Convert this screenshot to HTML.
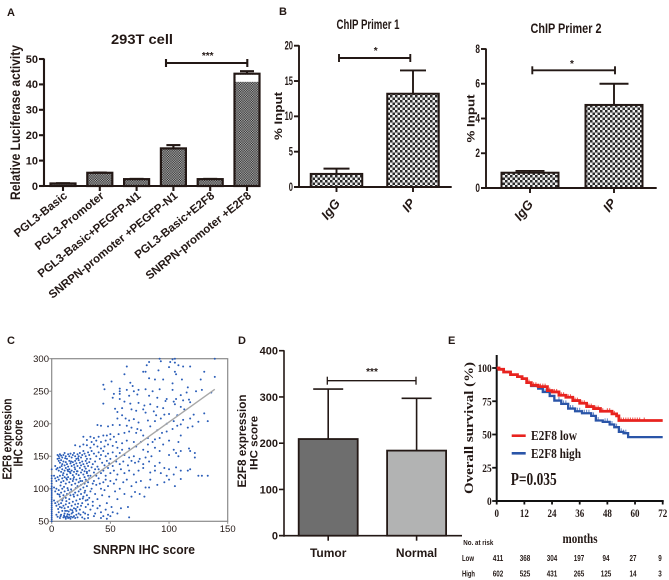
<!DOCTYPE html>
<html lang="en">
<head>
<meta charset="utf-8">
<title>E2F8 SNRPN figure</title>
<style>
html,body{margin:0;padding:0;background:#fff;}
svg{display:block;}
text{font-family:"Liberation Sans",sans-serif;fill:#231815;}
.b{font-weight:bold;}
.serif{font-family:"Liberation Serif",serif;font-weight:bold;}
</style>
</head>
<body>
<svg id="fig" xmlns="http://www.w3.org/2000/svg" width="669" height="580" viewBox="0 0 669 580">
<defs>
<pattern id="fine" width="2.4" height="2.4" patternUnits="userSpaceOnUse">
<rect width="2.4" height="2.4" fill="#b4b4b4"/><rect width="1.2" height="1.2" fill="#2a2a2a"/><rect x="1.2" y="1.2" width="1.2" height="1.2" fill="#2a2a2a"/>
</pattern>
<pattern id="coarse" width="5" height="5" patternUnits="userSpaceOnUse">
<rect width="5" height="5" fill="#f0f0f0"/><rect width="2.5" height="2.5" fill="#2a2a2a"/><rect x="2.5" y="2.5" width="2.5" height="2.5" fill="#2a2a2a"/>
</pattern>
</defs>
<rect width="669" height="580" fill="#fff"/>

<text class="b" x="7" y="16" font-size="11">A</text>
<text class="b" x="279" y="15" font-size="11">B</text>
<text class="b" x="7" y="344" font-size="11">C</text>
<text class="b" x="238" y="344" font-size="11">D</text>
<text class="b" x="448" y="344" font-size="11">E</text>

<text class="b" x="142" y="44" font-size="13.500" text-anchor="middle" textLength="62" lengthAdjust="spacingAndGlyphs">293T cell</text>
<text class="b" transform="translate(20,122.500) rotate(-90)" font-size="14" text-anchor="middle" textLength="155" lengthAdjust="spacingAndGlyphs">Relative Luciferase activity</text>

<text class="b" x="368" y="29" font-size="13.500" text-anchor="middle" textLength="63" lengthAdjust="spacingAndGlyphs">ChIP Primer 1</text>
<text class="b" x="566" y="33" font-size="13.500" text-anchor="middle" textLength="71" lengthAdjust="spacingAndGlyphs">ChIP Primer 2</text>
<text class="b" transform="translate(282,116) rotate(-90)" font-size="11" text-anchor="middle" textLength="48" lengthAdjust="spacingAndGlyphs">% Input</text>
<text class="b" transform="translate(474.500,118.500) rotate(-90)" font-size="11" text-anchor="middle" textLength="48" lengthAdjust="spacingAndGlyphs">% Input</text>

<text class="b" transform="translate(11.500,439) rotate(-90)" font-size="12.500" text-anchor="middle" textLength="81" lengthAdjust="spacingAndGlyphs">E2F8 expression</text>
<text class="b" transform="translate(22.500,443) rotate(-90)" font-size="12.500" text-anchor="middle" textLength="47" lengthAdjust="spacingAndGlyphs">IHC score</text>
<text class="b" x="144" y="554" font-size="12.500" text-anchor="middle" textLength="102" lengthAdjust="spacingAndGlyphs">SNRPN IHC score</text>
<text class="b" x="175.500" y="494" font-size="9" textLength="30" lengthAdjust="spacingAndGlyphs">R<tspan font-size="6" dy="-3">2</tspan><tspan dy="3">=0.48</tspan></text>
<text class="b" x="175.500" y="509" font-size="9" textLength="30" lengthAdjust="spacingAndGlyphs">P&lt;0.001</text>

<text class="b" transform="translate(246,441) rotate(-90)" font-size="12" text-anchor="middle" textLength="93" lengthAdjust="spacingAndGlyphs">E2F8 expression</text>
<text class="b" transform="translate(257.500,443) rotate(-90)" font-size="11" text-anchor="middle" textLength="54" lengthAdjust="spacingAndGlyphs">IHC score</text>

<text class="serif" transform="translate(473,428) rotate(-90)" font-size="12.500" text-anchor="middle" textLength="132" lengthAdjust="spacingAndGlyphs">Overall survival (%)</text>
<text class="serif" x="580" y="543" font-size="14" text-anchor="middle" textLength="35" lengthAdjust="spacingAndGlyphs">months</text>
<line x1="511.700" x2="525.700" y1="435.700" y2="435.700" stroke="#e8231f" stroke-width="2.600"/>
<line x1="511.700" x2="525.700" y1="453.300" y2="453.300" stroke="#2a55a8" stroke-width="2.600"/>
<text class="serif" x="531" y="440" font-size="13.500" textLength="46" lengthAdjust="spacingAndGlyphs">E2F8 low</text>
<text class="serif" x="531" y="458" font-size="13.500" textLength="50" lengthAdjust="spacingAndGlyphs">E2F8 high</text>
<text class="serif" x="510.700" y="485" font-size="18" textLength="46" lengthAdjust="spacingAndGlyphs">P=0.035</text>
<text class="b" x="463.300" y="545" font-size="7.500" textLength="30" lengthAdjust="spacingAndGlyphs">No. at risk</text>
<text class="b" x="462" y="561" font-size="8.500" textLength="12" lengthAdjust="spacingAndGlyphs">Low</text>
<text class="b" x="462" y="576.500" font-size="8.500" textLength="13" lengthAdjust="spacingAndGlyphs">High</text>
</svg>

<script>
// ---------- Panel A ----------
const aCategories = ["PGL3-Basic","PGL3-Promoter","PGL3-Basic+PEGFP-N1","SNRPN-promoter +PEGFP-N1","PGL3-Basic+E2F8","SNRPN-promoter +E2F8"];
const aValues = [1,5.2,2.7,14.8,2.7,44.2];
const aErrorTops = [1.1,5.3,2.8,16.1,2.8,45.2];
const aTicks = [0,10,20,30,40,50];
// ---------- Panel B ----------
const b1Categories = ["IgG","IP"];
const b1Values = [1.85,13.2];
const b1ErrorTops = [2.6,16.5];
const b1Ticks = [0,5,10,15,20];
const b2Categories = ["IgG","IP"];
const b2Values = [0.88,4.78];
const b2ErrorTops = [0.98,6];
const b2Ticks = [0,2,4,6,8];
// ---------- Panel C ----------
const cXTicks = [0,50,100,150];
const cYTicks = [50,100,150,200,250,300];
const trendX = [5,139];
const trendY = [80,253];
const zeroScoreY = [50,53,56,59,62,65,68,71,74,77,80,83,86,89,92,95,98,101,104,108,112,116,120,130];
const scatterPoints = [
[92,300],[93,296],[103,299],[105,300],[139,300],[83,295],[81,290],[101,295],[105,294],[108,290],[112,288],[118,288],[100,287],[64,288],[62,276],[78,280],[80,280],[91,282],[105,280],[106,276],[130,280],[139,272],[127,268],[111,268],[103,262],[95,268],[88,268],[83,270],[51,265],[44,260],[45,253],[67,263],[69,258],[58,254],[58,250],[58,246],[64,252],[70,250],[74,252],[80,253],[86,250],[92,253],[103,252],[116,256],[115,248],[128,252],[136,248],[123,250],[110,244],[98,238],[97,235],[104,234],[106,238],[112,236],[117,237],[118,233],[105,230],[90,240],[83,243],[73,245],[66,243],[53,246],[52,240],[58,238],[44,231],[62,234],[67,231],[74,232],[79,228],[84,230],[90,226],[95,224],[110,226],[113,222],[54,223],[56,218],[60,224],[68,222],[72,220],[78,222],[80,217],[87,219],[89,213],[96,214],[100,215],[107,213],[130,216],[112,206],[118,208],[133,204],[125,203],[121,214],
[56,208],[60,213],[63,208],[66,205],[70,207],[74,202],[82,205],[88,204],[93,208],[98,200],[104,204],[107,197],[110,199],[116,194],[120,196],[39,198],[42,197],[48,196],[52,198],[58,198],[64,197],[68,194],[73,192],[76,190],[84,196],[90,190],[94,186],[98,188],[103,192],[110,182],[27,180],[33,180],[36,178],[40,180],[44,182],[47,182],[50,184],[53,180],[57,184],[62,186],[66,188],[72,186],[78,182],[82,178],[88,176],[92,178],[100,174],[108,172],[30,175],[34,172],[38,174],[42,172],[46,174],[50,176],[55,172],[60,170],[64,174],[70,172],[76,172],[82,168],[86,172],[95,168],[104,160],[110,158],[117,162],[118,158],[122,155],[20,167],[24,165],[27,168],[30,167],[33,163],[36,168],[39,165],[42,162],[45,165],[48,168],[52,166],[56,163],[60,160],[66,162],[72,165],[78,160],[82,157],[88,163],[92,158],[100,152],[106,155],[108,150],[122,148],
[5,152],[6,150],[7,153],[8,151],[9,148],[10,152],[11,155],[12,150],[13,146],[14,153],[15,150],[16,154],[17,148],[18,152],[19,155],[20,150],[21,146],[22,153],[23,150],[24,155],[25,148],[26,152],[27,158],[28,154],[29,150],[30,146],[31,156],[32,152],[34,158],[36,154],[38,150],[40,156],[42,152],[44,158],[46,150],[48,154],[50,146],[52,156],[55,150],[58,155],[62,152],[66,148],[70,150],[75,146],[80,148],[85,150],[5,146],[6,143],[7,140],[8,144],[9,138],[10,142],[11,136],[12,141],[13,138],[14,134],[15,143],[16,139],[17,135],[18,141],[19,137],[20,143],[21,139],[22,135],[23,144],[24,140],[25,136],[26,142],[27,138],[28,134],[29,143],[30,139],[31,135],[32,141],[33,146],[35,138],[37,142],[39,134],[41,146],[43,140],[45,136],[47,143],[49,139],[52,135],[55,142],[58,138],[61,142],[65,136],[68,143],[71,140],[74,142],[78,138],[83,142],[88,135],[92,140],[96,132],[100,130],[106,133],[110,128],[116,128],[118,130],[125,120],[128,120],[133,120],
[3,135],[4,130],[5,132],[6,128],[7,133],[8,126],[9,130],[10,124],[11,128],[12,132],[13,122],[14,127],[15,130],[16,124],[17,128],[18,121],[19,126],[20,130],[21,123],[22,127],[23,121],[24,132],[25,125],[26,129],[27,122],[28,127],[29,131],[30,124],[31,120],[32,128],[34,133],[36,125],[38,120],[40,130],[42,124],[44,128],[46,120],[48,132],[50,124],[53,128],[56,122],[59,130],[62,124],[66,128],[70,122],[74,128],[78,132],[84,125],[88,128],[93,124],[98,120],[104,122],[110,115],[2,120],[3,116],[4,112],[5,118],[6,114],[7,120],[8,110],[9,116],[10,112],[11,118],[12,108],[13,114],[14,118],[15,110],[16,115],[17,106],[18,112],[19,118],[20,108],[21,114],[22,104],[23,110],[24,116],[25,106],[26,112],[27,102],[28,108],[29,114],[30,104],[31,110],[32,116],[34,100],[36,112],[38,106],[40,116],[42,100],[44,110],[46,114],[48,104],[50,112],[53,108],[55,114],[58,100],[61,110],[64,114],[68,104],[72,110],[76,112],[80,102],[84,114],[90,106],[96,110],[100,114],[105,104],
[2,102],[3,96],[4,100],[5,92],[6,98],[7,88],[8,94],[9,100],[10,90],[11,96],[12,86],[13,92],[14,98],[15,84],[16,90],[17,96],[18,80],[19,88],[20,94],[21,82],[22,90],[23,96],[24,84],[25,92],[26,78],[27,88],[28,94],[29,82],[30,90],[31,76],[32,86],[33,96],[35,80],[37,92],[39,84],[41,74],[43,90],[45,98],[47,78],[49,88],[51,72],[54,96],[56,84],[59,70],[62,92],[65,72],[68,88],[71,95],[75,92],[79,88],[83,102],[2,82],[3,78],[4,74],[5,80],[6,76],[7,72],[8,78],[9,82],[10,74],[11,70],[12,76],[13,66],[14,72],[15,78],[16,68],[17,74],[18,64],[19,70],[20,76],[21,66],[22,72],[23,62],[24,68],[25,74],[27,64],[29,72],[31,60],[33,68],[35,74],[37,62],[39,70],[42,64],[44,58],[46,68],[48,60],[52,64],[56,62],[66,56],[4,60],[5,57],[6,64],[7,55],[8,60],[9,66],[10,56],[11,62],[12,54],[13,58],[14,55],[15,60],[16,54],[17,62],[18,56],[19,58],[20,55],[21,60],[22,56],[26,56],[28,54],[31,55],[36,58],[42,55],[47,54],[50,58],
[6.5,147],[8.5,135],[11.5,147],[13.5,129],[16.5,142],[19.5,133],[22.5,147],[9.5,121],[12.5,116],[15.5,126],[18.5,115],[21.5,127],[24.5,112],[7.5,105],[10.5,103],[13.5,101],[16.5,99],[20.5,101],[24.5,99],[28.5,97],[6.5,91],[9.5,85],[12.5,81],[15.5,94],[18.5,91],[22.5,77],[26.5,85],[30.5,83],[5.5,69],[8.5,71],[11.5,66],[14.5,65],[17.5,67],[20.5,69],[24.5,60],[28.5,62],[7.5,58],[10.5,59],[13.5,61],[16.5,57],[11,57],[14,56],[15,56],[12,56],[35,108],[33,120],[37,130],[41,108],[30,126],[28,118]
];
// ---------- Panel D ----------
const dCategories = ["Tumor","Normal"];
const dValues = [209,184];
const dErrorTops = [317,297];
const dTicks = [0,100,200,300,400];
// ---------- Panel E ----------
const eMonthTicks = [0,12,24,36,48,60,72];
const eSurvivalTicks = [0,25,50,75,100];
const lowMonths = [0,1,3,6,9,11,13,15,18,20,22,24,27,30,33,36,39,42,45,48,50,52,53,72];
const lowSurvival = [100,99,97,95,93.5,92,89,87,86,86,83,82,79.5,78,75.5,73.5,71,69.5,67.5,67.5,65.5,64,60.5,60.5];
const highMonths = [0,1,3,6,9,11,13,15,18,20,23,25,28,31,34,37,41,43,46,49,51,53,55,57,72];
const highSurvival = [100,99,97,95,93.5,92,89,86.5,84.5,82,79,75.5,73,69.5,67.5,66,64,60.5,59.5,57.5,55.5,52,51,48,48];
const lowCensorMonths = [14,15,16,17,18,19,20,21,22,23,24,25,26,27,28,29,30,31,32,33,34,35,36,37,38,39,40,41,42,43,44,46,48,49,50,51,52,54,55,56,57,58,59,60,61,62,64];
const highCensorMonths = [19,21,23,25,27,29,30,32,33,34,35,36,37,38,39,40,41,42,44,47,48,49,50,51,52,53,54,55,56,57];
const riskLow = [411,368,304,197,94,27,9];
const riskHigh = [602,525,431,265,125,14,3];

const SVGNS = "http://www.w3.org/2000/svg";
const svg = document.getElementById("fig");
const INK = "#231815";

function make(tag, props) {
  const el = document.createElementNS(SVGNS, tag);
  for (const k in props) el.setAttribute(k, props[k]);
  svg.appendChild(el);
  return el;
}
function seg(x1, y1, x2, y2, w, color, name) {
  const el = make("line", {x1: x1, y1: y1, x2: x2, y2: y2, stroke: color || INK, "stroke-width": w});
  
  
  return el;
}
function txt(s, x, y, size, anchor, cls, name, extra) {
  const el = make("text", Object.assign({x: x, y: y, "font-size": size, "text-anchor": anchor, class: cls}, extra || {}));
  el.textContent = s;
  
  
  return el;
}
function sigBracket(x1, x2, y, stars, sx, sy, w, name) {
  seg(x1, y, x2, y, w, INK, name + "-line");
  seg(x1, y - 4, x1, y + 4, w, INK, name + "-left-cap");
  seg(x2, y - 4, x2, y + 4, w, INK, name + "-right-cap");
  txt(stars, sx, sy, 10, "middle", "b", name + "-stars");
}

function barChart(o) {
  // axes
  seg(o.x0, o.yScale(o.ticks[o.ticks.length - 1]) - 0.5, o.x0, o.yScale(0) + 1, o.axisW, INK, o.id + "-y-axis");
  seg(o.x0 - 5, o.yScale(0), o.xEnd, o.yScale(0), o.axisW, INK, o.id + "-x-axis");
  o.ticks.forEach(function (t) {
    seg(o.x0 - 5, o.yScale(t), o.x0, o.yScale(t), o.axisW, INK, o.id + "-y-tick");
    const ex = o.tickLen ? {textLength: String(t).length * o.tickLen, lengthAdjust: "spacingAndGlyphs"} : {};
    txt(String(t), o.x0 - 6, o.yScale(t) + 3.8, o.tickSize, "end", "b", o.id + "-y-tick-label", ex);
  });
  o.values.forEach(function (v, i) {
    const cx = o.center(i);
    seg(cx, o.yScale(v), cx, o.yScale(o.errs[i]), o.errW, INK, o.id + "-error-bar");
    seg(cx - o.cap / 2, o.yScale(o.errs[i]), cx + o.cap / 2, o.yScale(o.errs[i]), o.errW, INK, o.id + "-error-cap");
    const bar = make("rect", {x: cx - o.barW / 2, y: o.yScale(v), width: o.barW, height: o.yScale(0) - o.yScale(v), fill: o.fills[i], stroke: INK, "stroke-width": o.barStroke});
    
    
    seg(cx, o.yScale(0), cx, o.yScale(0) + 5, o.axisW, INK, o.id + "-x-tick");
  });
}

// Panel A
const yA = function (v) { return 186 - v * 127 / 50; };
const xA = function (i) { return 63 + i * 36.8; };
barChart({id: "chart-a", x0: 44, xEnd: 260, yScale: yA, ticks: aTicks, center: xA, values: aValues, errs: aErrorTops, cats: aCategories,
  barW: 25, cap: 14, axisW: 2.1, errW: 2.1, barStroke: 2.2, tickSize: 11, fills: aValues.map(function () { return "url(#fine)"; })});
const aHi = make("rect", {x: xA(5) - 11.400, y: yA(aValues[5]) + 1.100, width: 22.800, height: 7, fill: "#fff"});


aCategories.forEach(function (c, i) {
  const ex = xA(i) + 5, ey = 197;
  txt(c, 0, 0, 11.5, "end", "b", "chart-a-x-label", {transform: "translate(" + ex + "," + ey + ") rotate(-39)"});
});
sigBracket(166, 247.3, 63, "***", 207.7, 59, 2.1, "chart-a-significance");

// Panel B1
const yB1 = function (v) { return 187 - v * 141.3 / 20; };
const xB1 = function (i) { return 336.5 + i * 76.5; };
barChart({id: "chart-b1", x0: 299, xEnd: 451.7, yScale: yB1, ticks: b1Ticks, center: xB1, values: b1Values, errs: b1ErrorTops, cats: b1Categories,
  barW: 51.5, cap: 26, axisW: 1.9, errW: 1.9, barStroke: 2, tickSize: 11.5, tickLen: 4.2, fills: ["url(#coarse)", "url(#coarse)"]});
[[334, 208], [412, 204]].forEach(function (p, i) {
  txt(b1Categories[i], 0, 0, 13, "middle", "b", "chart-b1-x-label", {transform: "translate(" + p[0] + "," + (p[1] + 4) + ") rotate(-52)", "font-style": "italic"});
});
sigBracket(339, 410.3, 58, "*", 375.7, 54, 1.9, "chart-b1-significance");

// Panel B2
const yB2 = function (v) { return 188 - v * 139 / 8; };
const xB2 = function (i) { return 530 + i * 84; };
barChart({id: "chart-b2", x0: 486, xEnd: 656.7, yScale: yB2, ticks: b2Ticks, center: xB2, values: b2Values, errs: b2ErrorTops, cats: b2Categories,
  barW: 57, cap: 29, axisW: 1.9, errW: 1.9, barStroke: 2, tickSize: 11.5, tickLen: 4.6, fills: ["url(#coarse)", "url(#coarse)"]});
[[527, 209], [613, 204]].forEach(function (p, i) {
  txt(b2Categories[i], 0, 0, 13, "middle", "b", "chart-b2-x-label", {transform: "translate(" + p[0] + "," + (p[1] + 4) + ") rotate(-52)", "font-style": "italic"});
});
sigBracket(532.3, 615, 70.3, "*", 572, 67, 1.9, "chart-b2-significance");

// Panel C
const xC = function (v) { return 51.7 + v * 176 / 150; };
const yC = function (v) { return 521.3 - (v - 50) * 162.6 / 250; };
const frame = make("rect", {x: xC(0), y: yC(300), width: xC(150) - xC(0), height: yC(50) - yC(300), fill: "#fff", stroke: "#8a8a8a", "stroke-width": 1.2});


cXTicks.forEach(function (t) {
  seg(xC(t), yC(50), xC(t), yC(50) + 2.5, 1, "#8a8a8a", "chart-c-x-tick");
  txt(String(t), xC(t), 532, 9.5, "middle", "", "chart-c-x-tick-label");
});
cYTicks.forEach(function (t) {
  seg(xC(0) - 2.5, yC(t), xC(0), yC(t), 1, "#8a8a8a", "chart-c-y-tick");
  txt(String(t), 49, yC(t) + 3.4, 9.5, "end", "", "chart-c-y-tick-label");
});
zeroScoreY.forEach(function (v) {
  const d = make("circle", {cx: xC(0), cy: yC(v), r: 0.95, fill: "#2457b5"});
  
  
});
scatterPoints.forEach(function (p) {
  const d = make("circle", {cx: xC(p[0]), cy: yC(p[1]), r: 1, fill: "#2a5db8"});
  
  
});
seg(xC(trendX[0]), yC(trendY[0]), xC(trendX[1]), yC(trendY[1]), 1.4, "#a8a8a8", "chart-c-trend-line");

// Panel D
const yD = function (v) { return 535.7 - v * 185 / 400; };
const xD = function (i) { return 328.2 + i * 88.4; };
barChart({id: "chart-d", x0: 284, xEnd: 462, yScale: yD, ticks: dTicks, center: xD, values: dValues, errs: dErrorTops, cats: dCategories,
  barW: 59, cap: 30, axisW: 1.6, errW: 1.6, barStroke: 1.8, tickSize: 11, fills: ["#6e6e6e", "#b2b3b3"]});
dCategories.forEach(function (c, i) {
  txt(c, xD(i), 557, 12, "middle", "b", "chart-d-x-label");
});
sigBracket(327.3, 416, 380.7, "***", 372, 375, 1.3, "chart-d-significance");

// Panel E
const xE = function (m) { return 496.7 + m * 166 / 72; };
const yE = function (s) { return 501 - s * 133 / 100; };
function stepPath(ms, ss) {
  let d = "M" + xE(ms[0]) + " " + yE(ss[0]);
  for (let i = 1; i < ms.length; i++) {
    d += "L" + xE(ms[i]) + " " + yE(ss[i - 1]) + "L" + xE(ms[i]) + " " + yE(ss[i]);
  }
  return d;
}
function lookup(m, ms, ss) {
  let s = ss[0];
  for (let i = 0; i < ms.length; i++) { if (ms[i] <= m) s = ss[i]; }
  return s;
}
seg(xE(0), yE(0) + 1, xE(0), 355, 2, "#111", "chart-e-y-axis");
seg(xE(0) - 1, yE(0), xE(72) + 1, yE(0), 2, "#111", "chart-e-x-axis");
eSurvivalTicks.forEach(function (t) {
  seg(xE(0) - 4.5, yE(t), xE(0), yE(t), 1.8, "#111", "chart-e-y-tick");
  txt(String(t), xE(0) - 5, yE(t) + 4, 12, "end", "serif", "chart-e-y-tick-label", {textLength: String(t).length * 4.7, lengthAdjust: "spacingAndGlyphs"});
});
eMonthTicks.forEach(function (t) {
  seg(xE(t), yE(0), xE(t), yE(0) + 3.5, 1.8, "#111", "chart-e-x-tick");
  txt(String(t), xE(t), 517, 11.5, "middle", "serif", "chart-e-x-tick-label", {textLength: String(t).length * 4.5, lengthAdjust: "spacingAndGlyphs"});
});
highCensorMonths.forEach(function (m) {
  const yy = yE(lookup(m, highMonths, highSurvival));
  seg(xE(m), yy - 3.5, xE(m), yy, 1, "#5f83c6", "high-censor-mark");
});
lowCensorMonths.forEach(function (m) {
  const yy = yE(lookup(m, lowMonths, lowSurvival));
  seg(xE(m), yy - 3, xE(m), yy + 0.5, 1.1, "#ef5a52", "low-censor-mark");
});
const highCurve = make("path", {d: stepPath(highMonths, highSurvival), fill: "none", stroke: "#2a55a8", "stroke-width": 2.3});


const lowCurve = make("path", {d: stepPath(lowMonths, lowSurvival), fill: "none", stroke: "#e8231f", "stroke-width": 2.8});


const riskX = function (i) { return 498 + i * 27; };
riskLow.forEach(function (v, i) {
  txt(String(v), riskX(i), 561, 8.5, "middle", "b", "risk-low-value", {textLength: String(v).length * 3.5, lengthAdjust: "spacingAndGlyphs"});
});
riskHigh.forEach(function (v, i) {
  txt(String(v), riskX(i), 576.5, 8.5, "middle", "b", "risk-high-value", {textLength: String(v).length * 3.5, lengthAdjust: "spacingAndGlyphs"});
});
</script>
</body>
</html>
